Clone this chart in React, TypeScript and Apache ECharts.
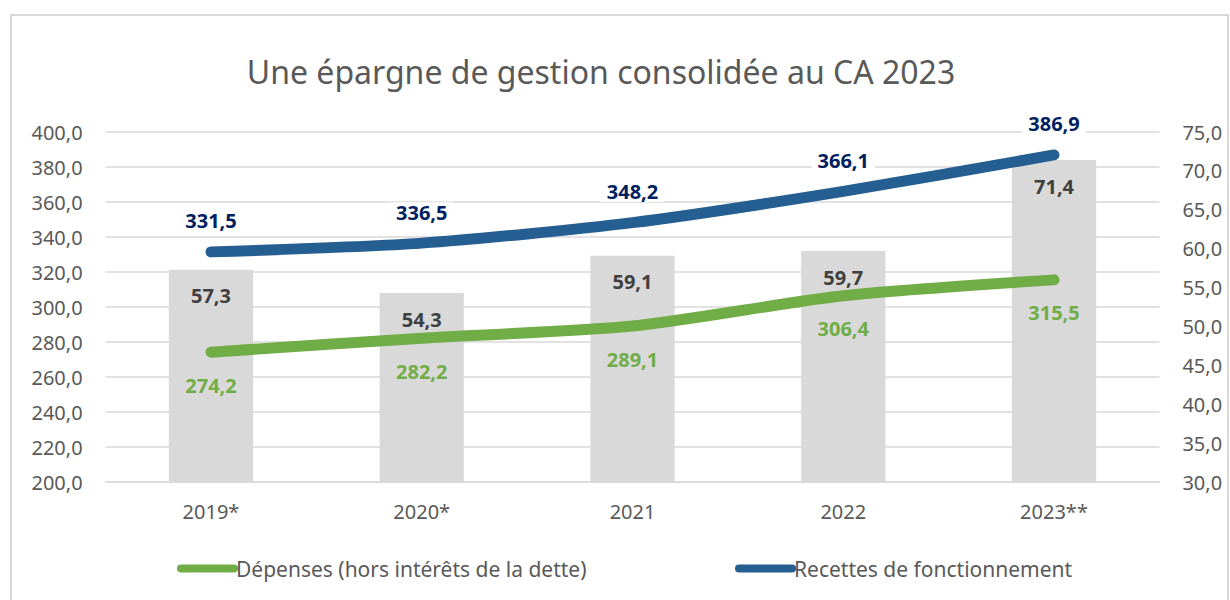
import React, { useEffect, useRef } from "react";
import * as echarts from "echarts";

const categories = ["2019*", "2020*", "2021", "2022", "2023**"];
const epargne = [57.3, 54.3, 59.1, 59.7, 71.4];
const depenses = [274.2, 282.2, 289.1, 306.4, 315.5];
const recettes = [331.5, 336.5, 348.2, 366.1, 386.9];
const seriesNames = ["Dépenses (hors intérêts de la dette)", "Recettes de fonctionnement"];
const titleText = "Une épargne de gestion consolidée au CA 2023";

const fmt = (v: number) => v.toFixed(1).replace(".", ",");
const FONT = "'Noto Sans', sans-serif";

export default function App() {
  const ref = useRef<HTMLDivElement>(null);
  useEffect(() => {
    if (!ref.current) return;
    const chart = echarts.init(ref.current, null, { renderer: "svg" });
    const capsule = "path://M4,0 H56 A4,4 0 0 1 56,8 H4 A4,4 0 0 1 4,0 Z";
    chart.setOption({
      animation: false,
      backgroundColor: "#ffffff",
      textStyle: { fontFamily: FONT },
      title: {
        text: titleText,
        left: 596,
        top: 50,
        textAlign: "center",
        textStyle: { fontFamily: FONT, fontSize: 32, fontWeight: "normal", color: "#595959" },
      },
      graphic: [
        {
          type: "rect",
          shape: { x: 11, y: 15, width: 1217, height: 600 },
          style: { fill: "none", stroke: "#d9d9d9", lineWidth: 2 },
          silent: true,
        },
      ],
      legend: [
        {
          data: [{ name: seriesNames[0], icon: capsule }],
          left: 172,
          top: 553,
          itemWidth: 61,
          itemHeight: 9,
          textStyle: { fontFamily: FONT, fontSize: 21, color: "#595959", padding: [0, 0, 0, -7] },
        },
        {
          data: [{ name: seriesNames[1], icon: capsule }],
          left: 730,
          top: 553,
          itemWidth: 61,
          itemHeight: 9,
          textStyle: { fontFamily: FONT, fontSize: 21, color: "#595959", padding: [0, 0, 0, -7] },
        },
      ],
      grid: { left: 105.6, right: 70.6, top: 132, bottom: 118, containLabel: false },
      xAxis: {
        type: "category",
        data: categories,
        boundaryGap: true,
        axisLine: { show: true, lineStyle: { color: "#d9d9d9", width: 1.5 } },
        axisTick: { show: false },
        axisLabel: { fontFamily: FONT, fontSize: 20, color: "#595959", margin: 19 },
      },
      yAxis: [
        {
          type: "value",
          min: 200,
          max: 400,
          interval: 20,
          axisLine: { show: false },
          axisTick: { show: false },
          splitLine: { lineStyle: { color: "#d9d9d9", width: 1.5 } },
          axisLabel: { fontFamily: FONT, fontSize: 20, color: "#595959", margin: 23, formatter: (v: number) => fmt(v) },
        },
        {
          type: "value",
          min: 30,
          max: 75,
          interval: 5,
          position: "right",
          axisLine: { show: false },
          axisTick: { show: false },
          splitLine: { show: false },
          axisLabel: { fontFamily: FONT, fontSize: 20, color: "#595959", margin: 23, formatter: (v: number) => fmt(v) },
        },
      ],
      series: [
        {
          name: "Épargne de gestion",
          type: "bar",
          yAxisIndex: 1,
          data: epargne,
          barWidth: "40%",
          itemStyle: { color: "#d9d9d9" },
          z: 1,
          label: {
            show: true,
            position: "insideTop",
            distance: 16,
            fontFamily: FONT,
            fontSize: 20,
            fontWeight: "bold",
            color: "#404040",
            formatter: (p: any) => fmt(p.value),
          },
        },
        {
          name: seriesNames[0],
          type: "line",
          yAxisIndex: 0,
          data: depenses,
          smooth: 0.25,
          symbol: "circle",
          symbolSize: 2,
          showSymbol: true,
          itemStyle: { color: "#70ad47" },
          color: "#70ad47",
          lineStyle: { color: "#70ad47", width: 11, cap: "round", join: "round" },
          z: 3,
          label: {
            show: true,
            position: "bottom",
            distance: 22,
            fontFamily: FONT,
            fontSize: 20,
            fontWeight: "bold",
            color: "#70ad47",
            formatter: (p: any) => fmt(p.value),
          },
        },
        {
          name: seriesNames[1],
          type: "line",
          yAxisIndex: 0,
          data: recettes,
          smooth: 0.25,
          symbol: "circle",
          symbolSize: 2,
          showSymbol: true,
          itemStyle: { color: "#255e91" },
          color: "#255e91",
          lineStyle: { color: "#255e91", width: 11, cap: "round", join: "round" },
          z: 3,
          label: {
            show: true,
            position: "top",
            distance: 20,
            fontFamily: FONT,
            fontSize: 20,
            fontWeight: "bold",
            color: "#002060",
            backgroundColor: "#ffffff",
            padding: [0, 6],
            formatter: (p: any) => fmt(p.value),
          },
        },
      ],
    });
    return () => chart.dispose();
  }, []);
  return (
    <div
      ref={ref}
      style={{ position: "fixed", left: 0, top: 0, width: 1230, height: 600, background: "#fff" }}
    />
  );
}
